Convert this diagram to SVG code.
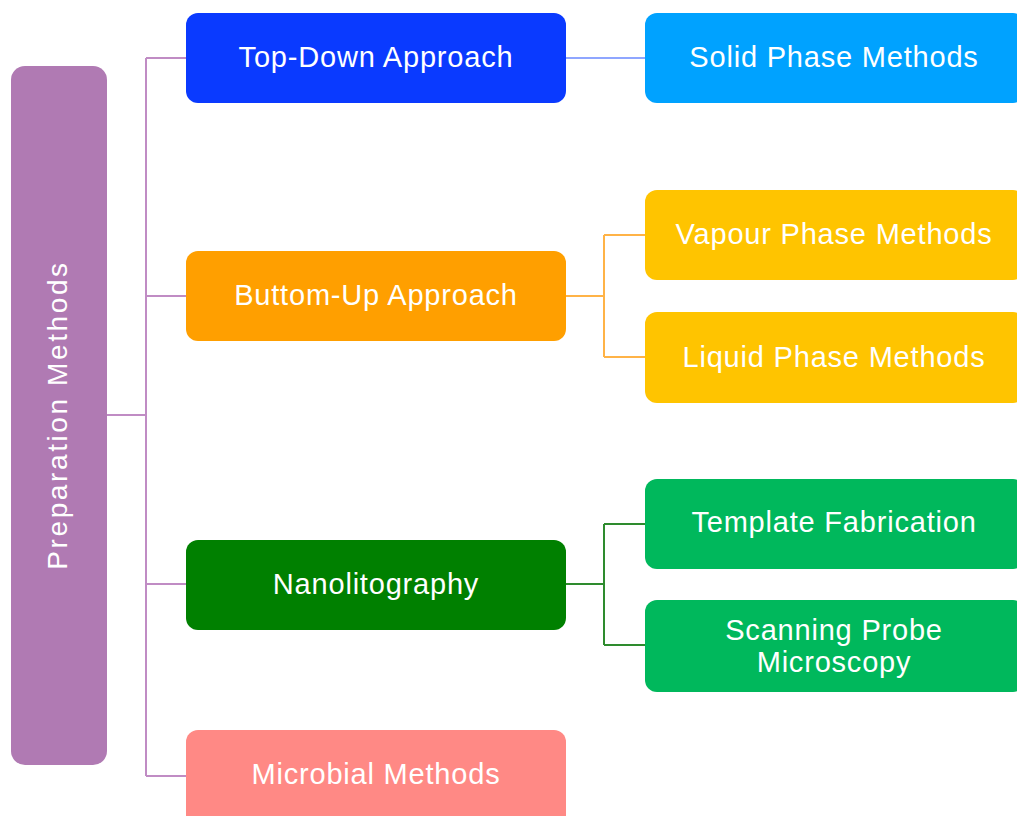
<svg xmlns="http://www.w3.org/2000/svg" width="1017" height="816" viewBox="0 0 1017 816">
<style>
.t{font-family:"Liberation Sans",Arial,sans-serif;font-size:29px;letter-spacing:0.8px;fill:#fff;text-anchor:middle;dominant-baseline:central}
.v{font-size:28px;letter-spacing:2.6px}
.c{fill:none;stroke-width:2}
</style>
<rect width="1017" height="816" fill="#fff"/>
<g id="connectors">
<path class="c" stroke="#C08CC4" d="M107 415H146M146 58V776M146 58H186M146 296H186M146 584H186M146 776H186"/>
<path class="c" stroke="#8FA6FF" d="M566 58H645"/>
<path class="c" stroke="#FFB347" d="M566 296H604M604 235V357M604 235H645M604 357H645"/>
<path class="c" stroke="#2E8B2E" d="M566 584H604M604 524V645M604 524H645M604 645H645"/>
</g>
<g id="prep"><rect x="11" y="66" width="96" height="699" rx="14" fill="#B07AB3"/><text class="t v" transform="translate(57 415) rotate(-90)">Preparation Methods</text></g>
<g id="topdown"><rect x="186" y="13" width="380" height="90" rx="12" fill="#0A3AFF"/><text class="t" x="376" y="57">Top-Down Approach</text></g>
<g id="solid"><rect x="645" y="13" width="380" height="90" rx="12" fill="#00A2FF"/><text class="t" x="834" y="57">Solid Phase Methods</text></g>
<g id="bottomup"><rect x="186" y="251" width="380" height="90" rx="12" fill="#FF9F00"/><text class="t" x="376" y="295">Buttom-Up Approach</text></g>
<g id="vapour"><rect x="645" y="190" width="380" height="90" rx="12" fill="#FFC400"/><text class="t" x="834" y="234">Vapour Phase Methods</text></g>
<g id="liquid"><rect x="645" y="312" width="380" height="91" rx="12" fill="#FFC400"/><text class="t" x="834" y="357">Liquid Phase Methods</text></g>
<g id="nano"><rect x="186" y="540" width="380" height="90" rx="12" fill="#008000"/><text class="t" x="376" y="584">Nanolitography</text></g>
<g id="template"><rect x="645" y="479" width="380" height="90" rx="12" fill="#00B85C"/><text class="t" x="834" y="522">Template Fabrication</text></g>
<g id="scanning"><rect x="645" y="600" width="380" height="92" rx="12" fill="#00B85C"/><text class="t" x="834" y="630">Scanning Probe</text><text class="t" x="834" y="662">Microscopy</text></g>
<g id="microbial"><rect x="186" y="730" width="380" height="100" rx="12" fill="#FF8985"/><text class="t" x="376" y="774">Microbial Methods</text></g>
</svg>
